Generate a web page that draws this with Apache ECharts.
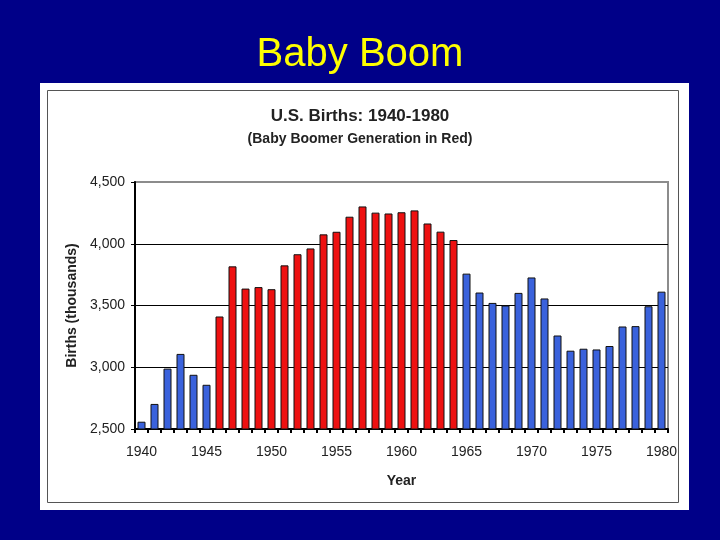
<!DOCTYPE html>
<html><head><meta charset="utf-8">
<script src="https://cdn.jsdelivr.net/npm/echarts@6/dist/echarts.min.js"></script>
<style>html,body{margin:0;padding:0;background:#000088}#c{width:720px;height:540px}</style>
</head><body><div id="c"></div>
<script>
const years = [];
for (let y = 1940; y <= 1980; y++) years.push(String(y));
const births = [2559, 2703, 2989, 3108, 2939, 2858, 3411, 3817, 3637, 3649,
  3632, 3825, 3915, 3962, 4076, 4097, 4219, 4302, 4252, 4245,
  4255, 4270, 4164, 4098, 4030, 3758, 3605, 3521, 3500, 3602,
  3727, 3557, 3257, 3134, 3150, 3144, 3172, 3330, 3333, 3494, 3612];
const boomStart = 1946, boomEnd = 1964;
const yTicks = [2500, 3000, 3500, 4000, 4500];
const FF = 'Liberation Sans, Arial';

const chart = echarts.init(document.getElementById('c'));
chart.setOption({
  backgroundColor: '#000088',
  animation: false,
  graphic: [
    { type: 'rect', shape: { x: 40, y: 83, width: 649, height: 427 }, style: { fill: '#ffffff' }, z: -10 },
    { type: 'rect', shape: { x: 47.5, y: 90.5, width: 631, height: 412 }, style: { fill: 'none', stroke: '#555', lineWidth: 1 }, z: -9 }
  ],
  title: [
    { text: 'Baby Boom', left: 'center', top: 30, textStyle: { color: '#ffff00', fontFamily: FF, fontSize: 40, fontWeight: 'normal' } },
    { text: 'U.S. Births: 1940-1980', left: 'center', top: 103, textStyle: { color: '#222', fontFamily: FF, fontSize: 17, fontWeight: 'bold' } },
    { text: '(Baby Boomer Generation in Red)', left: 'center', top: 127, textStyle: { color: '#222', fontFamily: FF, fontSize: 14, fontWeight: 'bold' } }
  ],
  grid: { left: 135, right: 52, top: 182, bottom: 111, show: true, borderColor: '#8c8c8c', borderWidth: 2, backgroundColor: 'transparent' },
  xAxis: {
    type: 'category', data: years, boundaryGap: true,
    name: 'Year', nameLocation: 'middle', nameGap: 45,
    nameTextStyle: { color: '#222', fontFamily: FF, fontSize: 14, fontWeight: 'bold' },
    axisLine: { lineStyle: { color: '#000', width: 2 } },
    axisTick: { show: true, interval: 0, length: 4, lineStyle: { color: '#000', width: 2 } },
    axisLabel: { interval: 4, color: '#222', fontFamily: FF, fontSize: 14, margin: 16 },
    splitLine: { show: false }
  },
  yAxis: {
    type: 'value', min: yTicks[0], max: yTicks[yTicks.length - 1], interval: 500,
    name: 'Births (thousands)', nameLocation: 'middle', nameGap: 56, nameRotate: 90,
    nameTextStyle: { color: '#222', fontFamily: FF, fontSize: 14, fontWeight: 'bold' },
    axisLine: { show: true, lineStyle: { color: '#000', width: 2 } },
    axisTick: { show: true, length: 4, lineStyle: { color: '#000' } },
    axisLabel: { color: '#222', fontFamily: FF, fontSize: 14, margin: 10,
      formatter: v => v.toLocaleString('en-US') },
    splitLine: { show: true, showMaxLine: false, lineStyle: { color: '#000', width: 1 } }
  },
  series: [{
    type: 'bar', data: births, barWidth: 8,
    itemStyle: {
      borderColor: '#111', borderWidth: 1,
      color: p => {
        const y = Number(years[p.dataIndex]);
        return (y >= boomStart && y <= boomEnd) ? '#ee1111' : '#3a62dc';
      }
    }
  }]
});
</script></body></html>
